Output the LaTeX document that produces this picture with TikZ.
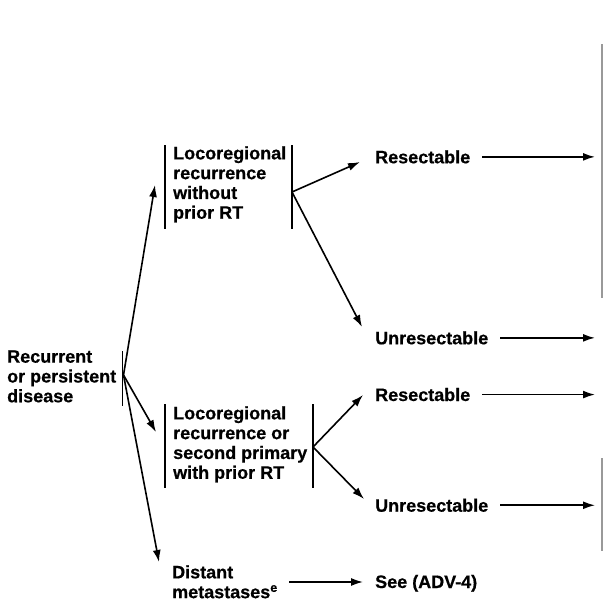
\documentclass[tikz,border=0pt]{standalone}
\usepackage{fontspec}
\setmainfont{Liberation Sans}[BoldFeatures={FakeBold=0.6}]
\usetikzlibrary{arrows.meta}
\begin{document}
\begin{tikzpicture}[x=1pt,y=-1pt,
  lbl/.style={inner sep=0pt,font=\bfseries\fontsize{18}{19.8}\selectfont},
  blk/.style={lbl,align=left,anchor=north west},
  one/.style={lbl,anchor=base west},
  bar/.style={line width=1.8pt},
  arr/.style={line width=1.6pt,-{Latex[length=12pt,width=8pt]}},
  rule/.style={line width=1.2pt,draw=black!40}]
\useasboundingbox (0,0) rectangle (603,606);

% stage labels
\node[blk] (rec)   at (7,350.1)   {Recurrent\\or persistent\\disease};
\node[blk] (loc1)  at (173,146.1) {Locoregional\\recurrence\\without\\prior RT};
\node[blk] (loc2)  at (173,406.1) {Locoregional\\recurrence or\\second primary\\with prior RT};
\node[blk] (dist)  at (172,565.1) {Distant\\metastases\textsuperscript{e}};
\node[one] (res1)  at (375,163.3) {Resectable};
\node[one] (unr1)  at (375,344.3) {Unresectable};
\node[one] (res2)  at (375,401)   {Resectable};
\node[one] (unr2)  at (375,511.7) {Unresectable};
\node[one] (see)   at (375,588)   {See (ADV-4)};

% bracket bars
\coordinate (b0t) at (122.5,351); \coordinate (b0b) at (122.5,406);
\coordinate (b1lt) at (165,145);  \coordinate (b1lb) at (165,229);
\coordinate (b1rt) at (292,145);  \coordinate (b1rb) at (292,229);
\coordinate (b2lt) at (165,404);  \coordinate (b2lb) at (165,488);
\coordinate (b2rt) at (313,404);  \coordinate (b2rb) at (313,488);
\draw[bar] (b0t) -- (b0b);
\draw[bar] (b1lt) -- (b1lb);
\draw[bar] (b1rt) -- (b1rb);
\draw[bar] (b2lt) -- (b2lb);
\draw[bar] (b2rt) -- (b2rb);

% branch points and arrow ends
\coordinate (o0) at (123.5,375);
\coordinate (o1) at (292,192);
\coordinate (o2) at (313,447);
\coordinate (t1) at (155,185);
\coordinate (t2) at (156,432);
\coordinate (t3) at (159,562);
\coordinate (t4) at (360,162);
\coordinate (t5) at (362,327);
\coordinate (t6) at (363,395);
\coordinate (t7) at (364,499);
\coordinate (edge) at (595,0);

\draw[arr] (o0) -- (t1);
\draw[arr] (o0) -- (t2);
\draw[arr] (o0) -- (t3);
\draw[arr] (o1) -- (t4);
\draw[arr] (o1) -- (t5);
\draw[arr] (o2) -- (t6);
\draw[arr] (o2) -- (t7);

% arrows to the next column
\draw[arr] ([xshift=12pt]res1.east) -- (res1.east -| edge);
\draw[arr] ([xshift=12pt]unr1.east) -- (unr1.east -| edge);
\draw[arr] ([xshift=12pt]res2.east) -- (res2.east -| edge);
\draw[arr] ([xshift=12pt]unr2.east) -- (unr2.east -| edge);
\coordinate (d0) at (289,582);
\coordinate (d1) at (363,582);
\draw[arr] (d0) -- (d1);

% column rules on the right edge
\coordinate (g1t) at (602,44);  \coordinate (g1b) at (602,298);
\coordinate (g2t) at (602,458); \coordinate (g2b) at (602,551);
\draw[rule] (g1t) -- (g1b);
\draw[rule] (g2t) -- (g2b);
\end{tikzpicture}
\end{document}
